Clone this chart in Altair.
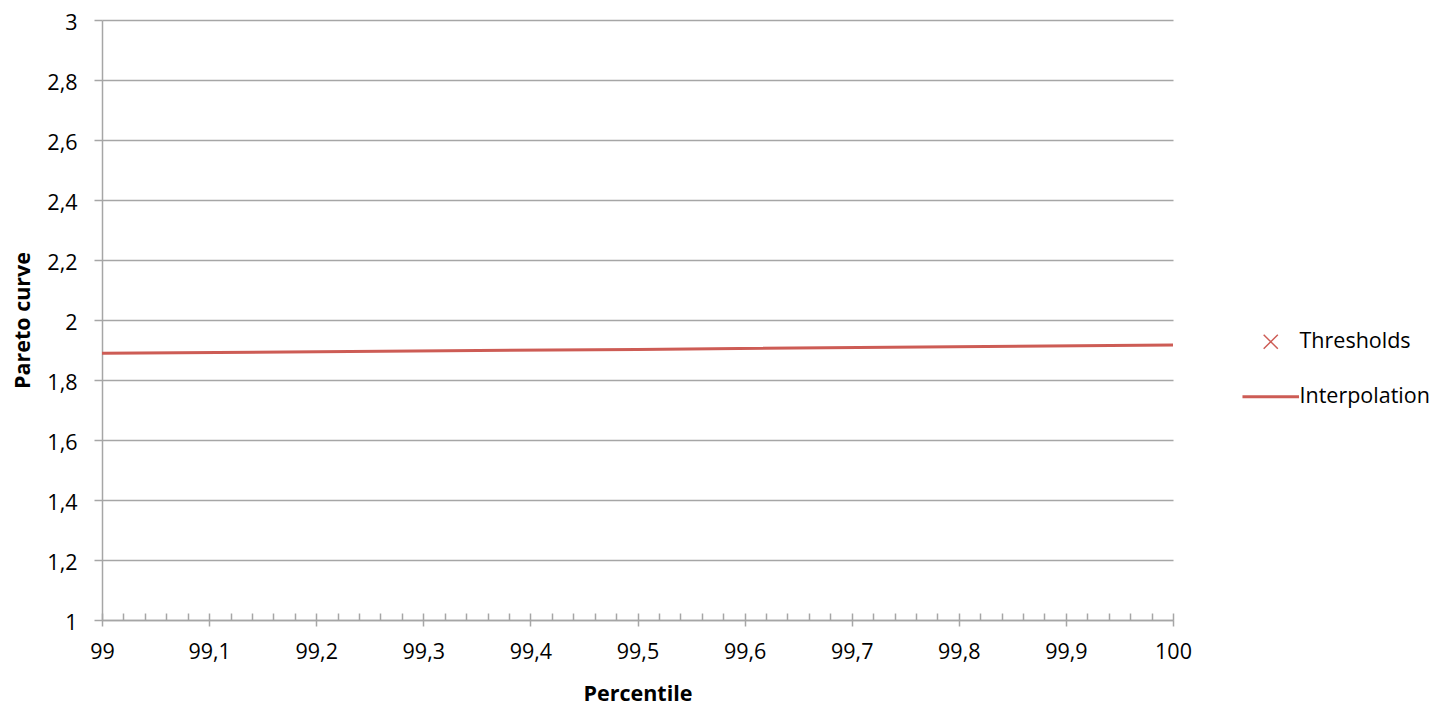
import altair as alt
import pandas as pd

# ---- data ----
percentile = [99.0, 99.5, 100.0]
pareto_curve = [1.889, 1.902, 1.917]
series_names = ["Thresholds", "Interpolation"]

x_major_ticks = [99.0, 99.1, 99.2, 99.3, 99.4, 99.5, 99.6, 99.7, 99.8, 99.9, 100.0]
x_minor_ticks = [round(99 + i * 0.02, 2) for i in range(51)]
y_ticks = [1.0, 1.2, 1.4, 1.6, 1.8, 2.0, 2.2, 2.4, 2.6, 2.8, 3.0]

RED = "#cd5c55"
GRAY = "#a6a6a6"
FONT = "Open Sans"
FS = 21.5

df = pd.DataFrame({
    "x": percentile,
    "y": pareto_curve,
    "series": ["Interpolation"] * len(percentile),
})

W, H = 1071, 600
label_expr = "replace(format(datum.value, '.1~f'), '.', ',')"

x_scale = alt.Scale(domain=[99, 100], nice=False, zero=False)
y_scale = alt.Scale(domain=[1, 3], nice=False, zero=False)

legend = alt.Legend(
    title=None,
    orient="none",
    legendX=1158,
    legendY=311,
    symbolSize=200,
    symbolStrokeColor=RED,
    symbolFillColor="transparent",
    symbolOpacity=1,
    labelFont=FONT,
    labelFontSize=FS,
    labelColor="#000000",
    labelOffset=18,
    rowPadding=32,
)

line = alt.Chart(df).mark_line(color=RED, strokeWidth=3).encode(
    x=alt.X(
        "x:Q",
        scale=x_scale,
        axis=alt.Axis(
            orient="bottom",
            values=x_major_ticks,
            tickSize=6,
            tickColor=GRAY,
            tickWidth=1.5,
            domainColor=GRAY,
            domainWidth=1.5,
            grid=False,
            labelExpr=label_expr,
            labelFlush=False,
            labelFont=FONT,
            labelFontSize=FS,
            labelColor="#000000",
            labelPadding=15,
            title="Percentile",
            titleFont=FONT,
            titleFontSize=FS,
            titleFontWeight="bold",
            titleColor="#000000",
            titleX=W / 2,
            titleY=74,
            titleBaseline="middle",
        ),
    ),
    y=alt.Y(
        "y:Q",
        scale=y_scale,
        axis=alt.Axis(
            values=y_ticks,
            tickSize=8,
            tickColor=GRAY,
            tickWidth=1.5,
            domainColor=GRAY,
            domainWidth=1.5,
            grid=True,
            gridColor=GRAY,
            gridWidth=1.5,
            labelExpr=label_expr,
            labelFlush=False,
            labelFont=FONT,
            labelFontSize=FS,
            labelColor="#000000",
            labelPadding=17,
            labelOffset=3,
            title="Pareto curve",
            titleFont=FONT,
            titleFontSize=FS,
            titleFontWeight="bold",
            titleColor="#000000",
            titleX=-79,
            titleY=H / 2,
            titleAngle=-90,
            titleAlign="center",
            titleBaseline="middle",
        ),
    ),
)

points = alt.Chart(df).transform_filter(
    "datum.series == 'Thresholds'"
).mark_point(filled=False, color=RED, size=200, opacity=1).encode(
    x=alt.X(
        "x:Q",
        scale=x_scale,
        axis=alt.Axis(
            orient="bottom",
            values=x_minor_ticks,
            offset=-7,
            tickSize=7,
            tickColor=GRAY,
            tickWidth=1.5,
            labels=False,
            domain=False,
            grid=False,
            title=None,
        ),
    ),
    y=alt.Y("y:Q", scale=y_scale, axis=None),
    shape=alt.Shape(
        "series:N",
        scale=alt.Scale(
            domain=series_names,
            range=["M-1,-1L1,1M-1,1L1,-1", "M-4,0L4,0"],
        ),
        legend=legend,
    ),
    strokeWidth=alt.StrokeWidth(
        "series:N",
        scale=alt.Scale(domain=series_names, range=[1.5, 3]),
        legend=legend,
    ),
)

chart = (
    alt.layer(line, points)
    .resolve_axis(x="independent", y="independent")
    .properties(
        width=W,
        height=H,
        autosize=alt.AutoSizeParams(type="none"),
        padding={"left": 94, "top": 12, "right": 258, "bottom": 87},
    )
    .configure_view(stroke=None)
)

chart.save("out.html", embed_options={"renderer": "svg", "actions": False})
